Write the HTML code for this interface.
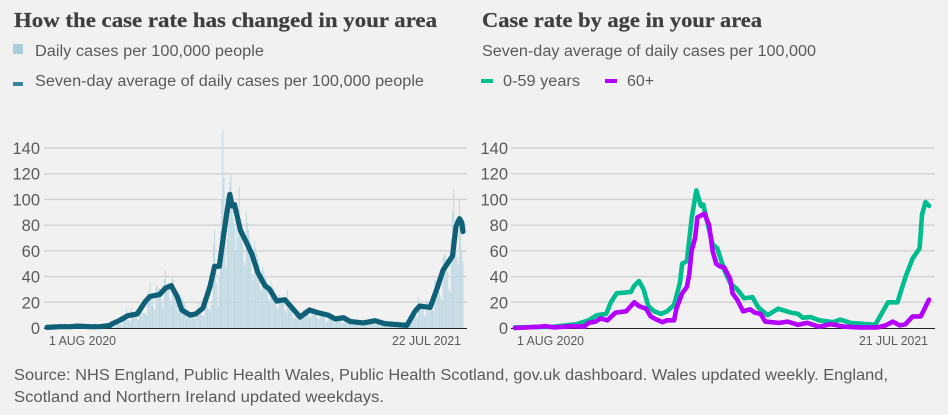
<!DOCTYPE html>
<html lang="en">
<head>
<meta charset="utf-8">
<title>Case rate charts</title>
<style>
html,body{margin:0;padding:0;background:#f1f1f1;width:948px;height:415px;overflow:hidden}
svg{display:block}
text{font-family:"Liberation Sans",sans-serif;fill:#5a5a5a}
.title{font-family:"Liberation Serif",serif;font-weight:700;font-size:21.5px;fill:#3f3f3f;stroke:#3f3f3f;stroke-width:.25px}
.body{font-size:15.5px}
.tick{font-size:16.5px;text-anchor:end}
.date{font-size:12.5px}
</style>
</head>
<body>
<svg id="root" width="948" height="415" viewBox="0 0 948 415" xmlns="http://www.w3.org/2000/svg">
  <rect x="0" y="0" width="948" height="415" fill="#f1f1f1"/>

  <text class="title" x="14" y="27" textLength="423" lengthAdjust="spacingAndGlyphs">How the case rate has changed in your area</text>
  <rect x="13" y="44" width="10" height="10" fill="#a9cfdc"/>
  <text class="body" x="35" y="56" textLength="229" lengthAdjust="spacingAndGlyphs">Daily cases per 100,000 people</text>
  <rect x="13" y="82" width="10" height="4" fill="#3b82a0"/>
  <text class="body" x="35" y="86" textLength="389" lengthAdjust="spacingAndGlyphs">Seven-day average of daily cases per 100,000 people</text>

  <text class="title" x="482" y="27" textLength="280" lengthAdjust="spacingAndGlyphs">Case rate by age in your area</text>
  <text class="body" x="482" y="56" textLength="334" lengthAdjust="spacingAndGlyphs">Seven-day average of daily cases per 100,000</text>
  <rect x="481" y="79" width="12" height="4" fill="#00c28f"/>
  <text class="body" x="503" y="86" textLength="77" lengthAdjust="spacingAndGlyphs">0-59 years</text>
  <rect x="605" y="79" width="12" height="4" fill="#b300ff"/>
  <text class="body" x="627" y="86" textLength="27" lengthAdjust="spacingAndGlyphs">60+</text>

  <g id="left-chart"></g>
  <g id="right-chart"></g>

  <text class="date" x="49" y="345" textLength="67" lengthAdjust="spacingAndGlyphs">1 AUG 2020</text>
  <text class="date" x="392" y="345" textLength="69" lengthAdjust="spacingAndGlyphs">22 JUL 2021</text>
  <text class="date" x="517" y="345" textLength="67" lengthAdjust="spacingAndGlyphs">1 AUG 2020</text>
  <text class="date" x="859" y="345" textLength="69" lengthAdjust="spacingAndGlyphs">21 JUL 2021</text>

  <text class="body" x="14" y="380" textLength="874" lengthAdjust="spacingAndGlyphs">Source: NHS England, Public Health Wales, Public Health Scotland, gov.uk dashboard. Wales updated weekly. England,</text>
  <text class="body" x="14" y="402" textLength="370" lengthAdjust="spacingAndGlyphs">Scotland and Northern Ireland updated weekdays.</text>
</svg>
<script>
const yTicks = [0, 20, 40, 60, 80, 100, 120, 140];

const dailyCases = [
  .4,.3,1.2,1,.9,.8,.7,
  .5,.4,1.3,1.1,1,.9,.8,
  .6,.5,1.6,1.3,1.2,1.1,1,
  .8,.6,2,1.8,1.6,1.4,1.2,
  .7,.5,1.8,1.6,1.4,1.3,1.1,
  .6,.5,1.6,1.3,1.2,1,.9,
  .7,.6,1.9,1.6,1.4,1.3,1.1,
  1,.8,3,2.6,2.3,2.1,2,
  1.5,1.2,5,4,3.5,3.2,3,
  3,2.5,9,8,7,15,6,
  6,5,15,12,11,10,9,
  7,6,16,14,12,12,11,
  12,10,28,26,36,24,22,
  16,14,34,32,30,31,27,
  20,16,38,45,32,34,30,
  22,18,39,37,32,30,25,
  14,12,26,24,22,20,17,
  9,8,13,12,11,10,10,
  8,7,13,20,12,11,10,
  10,9,23,20,17,15,14,
  18,22,65,76,48,35,17,
  40,75,100,154,117,90,47,
  70,95,113,119,100,85,80,
  60,78,70,110,85,75,65,
  52,48,90,82,76,70,66,
  42,38,68,62,58,54,50,
  30,28,48,44,40,38,35,
  22,20,36,33,31,29,27,
  16,15,26,24,22,21,20,
  14,12,30,22,20,19,18,
  8,7,12,11,10,10,9,
  8,8,15,14,14,13,12,
  9,8,14,13,13,12,12,
  7,7,12,11,10,10,10,
  5,5,12,9,9,8,8,
  4,4,9,8,8,7,7,
  4,4,9,8,8,7,7,
  3,3,6,6,5,5,5,
  2.5,2,5,4.5,4.5,4,4,
  3,3,6,6,5.5,5,5,
  3,3,6,6,5.5,5,5,
  2,1.5,4,3.5,3.5,3,3,
  1.5,1.2,3,3,2.8,2.5,2.5,
  1.2,1,2.5,2.5,2.2,2,2,
  3,3,9,8,8,9,10,
  9,8,24,20,18,19,17,
  10,9,22,20,19,17,16,
  14,13,38,36,32,30,28,
  24,22,55,58,57,46,44,
  30,28,70,90,108,85,75,
  55,50,100,85,60,52
];

const averageDays = [0,11,20,26,37,45,54,55,62,69,77,84,88,96,101,106,111,115,122,127,133,139,143,147,149,153,156,158,160,165,171,175,180,186,190,196,203,216,224,231,240,246,253,259,270,280,288,307,314,318,327,333,338,346,349,352,354,355];
const averageValues = [0.5,1,1,1.5,1,1,2,3,6,9.6,11,20.7,24.6,26,31,33,24.6,14,10,11,15.5,32,48,48,61,87,104,95,96,76,65,57,43,33,30,21,22,8.5,14,12,10,7,8,5,4,5.7,3.4,2,13,17,16,31,45,56,79,85,82,75];

const youngDays = [0,33,53,63,70,78,82,87,99,102,106,110,114,119,125,130,136,141,143,147,151,155,159,161,165,169,173,179,184,190,196,203,208,216,225,236,242,246,253,260,272,278,287,308,319,327,334,340,346,348,351,354];
const youngValues = [0.5,1,3,6,10,11,20,27,28,33,36.5,30,17,13,11,13,18,35,50,52,85,107,95,96,80,65,62,45,35,30,23,24,16,10,15,12,11,8,8.5,6,4.5,6.5,4,2.5,20,20,40,54,62,88,98,95];

const olderDays = [0,22,26,33,50,59,63,69,73,79,86,95,102,106,112,116,120,126,130,136,138,143,147,149,151,154,156,160,162,166,169,172,175,179,184,186,190,195,201,205,210,214,226,233,242,250,260,270,282,295,310,317,323,329,334,340,347,354];
const olderValues = [0,1,1.5,0.5,1.5,1,4,5,7.5,6,12,13,20,17,15,9,7,4.5,6,6,15,27,32,42,60,70,86,88,89,80,60,50,48,47,38,27,22,13,14.5,12,11,5,4,5,2.5,4,1,3,1,0.5,0.5,2,5,2,3,9,9,22];

const SVG_NS = 'http://www.w3.org/2000/svg';
const yScale = v => 328 - v * 180 / 140;
const xLeft = d => 47 + d * 416 / 355;
const xRight = d => 515 + d * 414 / 354;

function make(parent, tag, attrs) {
  const el = document.createElementNS(SVG_NS, tag);
  for (const k in attrs) el.setAttribute(k, attrs[k]);
  parent.appendChild(el);
  return el;
}

function drawAxes(parent, x0, x1, labelX) {
  yTicks.forEach(t => {
    if (t > 0) {
      const g = make(parent, 'line', {x1: x0, x2: x1, y1: yScale(t), y2: yScale(t), stroke: '#d4d4d4', 'stroke-width': 1.5});
      
      
    }
    const l = make(parent, 'text', {x: labelX, y: yScale(t) + 6, class: 'tick'});
    l.textContent = t;
    
    
  });
}

function drawBaseline(parent, x0, x1) {
  const b = make(parent, 'line', {x1: x0, x2: x1, y1: 328.5, y2: 328.5, stroke: '#222', 'stroke-width': 1});
  
  
}

function drawLine(parent, xs, days, values, color, width, name) {
  const pts = days.map((d, i) => xs(d).toFixed(1) + ',' + yScale(values[i]).toFixed(1)).join(' ');
  const p = make(parent, 'polyline', {points: pts, fill: 'none', stroke: color, 'stroke-width': width, 'stroke-linejoin': 'round', 'stroke-linecap': 'round'});
  
  
}

const left = document.getElementById('left-chart');
const right = document.getElementById('right-chart');

drawAxes(left, 44, 467, 40);
dailyCases.forEach((v, d) => {
  const r = make(left, 'rect', {x: xLeft(d) - 0.5, y: yScale(v), width: 1, height: 328 - yScale(v), fill: '#bfd9e3'});
  
  
});
drawBaseline(left, 44, 467);
drawLine(left, xLeft, averageDays, averageValues, '#0f6077', 5.2, 'seven-day-average-line');

drawAxes(right, 511, 935, 508);
drawBaseline(right, 511, 935);
drawLine(right, xRight, youngDays, youngValues, '#00bd8f', 4.6, 'age-0-59-line');
drawLine(right, xRight, olderDays, olderValues, '#b300ff', 4.6, 'age-60-plus-line');
</script>
</body>
</html>
